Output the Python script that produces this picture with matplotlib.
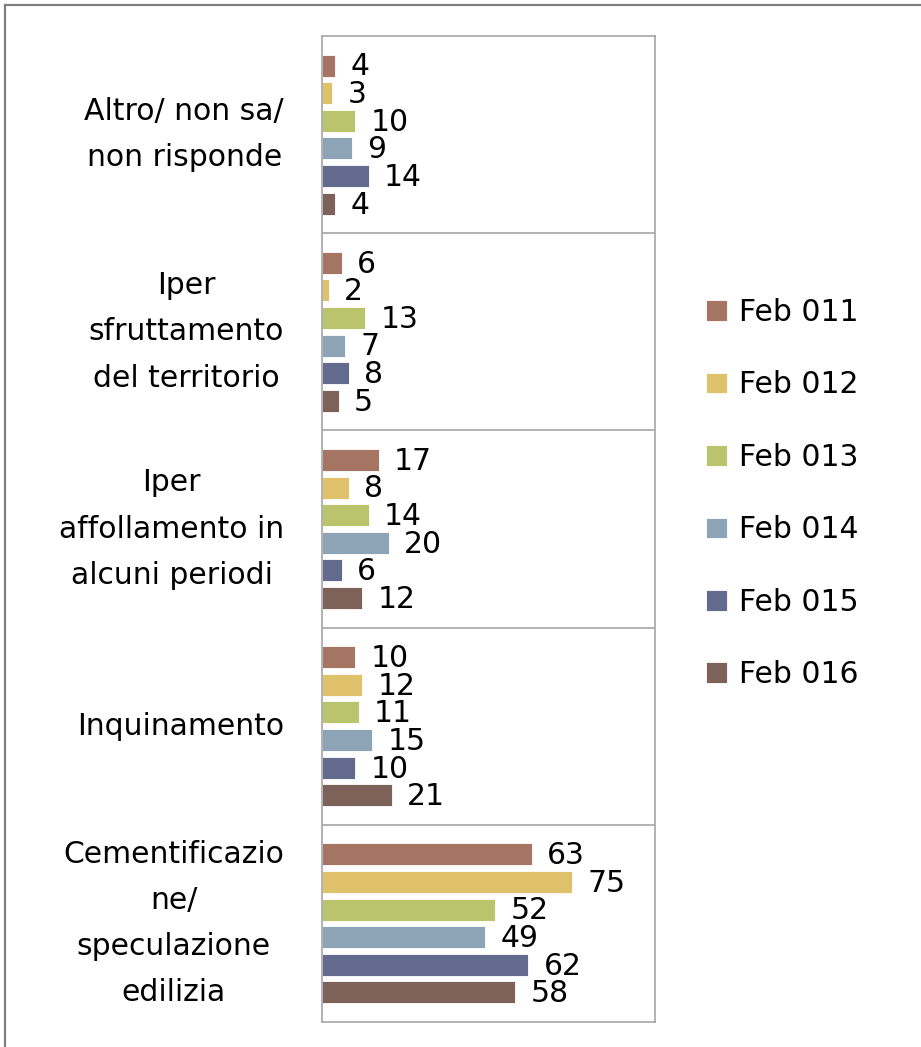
import matplotlib
matplotlib.use("Agg")
import matplotlib.pyplot as plt
from matplotlib.lines import Line2D
import numpy as np

plt.rcParams['font.family'] = ['DejaVu Sans']

categories = [
    "Altro/ non sa/\nnon risponde",
    "Iper\nsfruttamento\ndel territorio",
    "Iper\naffollamento in\nalcuni periodi",
    "Inquinamento",
    "Cementificazio\nne/\nspeculazione\nedilizia",
]
series_names = ["Feb 011", "Feb 012", "Feb 013", "Feb 014", "Feb 015", "Feb 016"]
feb011 = [4, 6, 17, 10, 63]
feb012 = [3, 2, 8, 12, 75]
feb013 = [10, 13, 14, 11, 52]
feb014 = [9, 7, 20, 15, 49]
feb015 = [14, 8, 6, 10, 62]
feb016 = [4, 5, 12, 21, 58]
values = [feb011, feb012, feb013, feb014, feb015, feb016]
colors = ["#A57462", "#DEC16A", "#BAC46C", "#8DA3B6", "#626A8D", "#7D625A"]

FS = 21.5

W, H = 921, 1047
fig = plt.figure(figsize=(W / 100, H / 100), dpi=100)
fig.patch.set_facecolor("white")

left, right, top, bottom = 322, 655, 36, 1022
ax = fig.add_axes([left / W, (H - bottom) / H, (right - left) / W, (bottom - top) / H])

n = len(categories)
ypos = np.arange(n)[::-1]  # first category at top
step = 0.14
bh = 0.112
handles = []
for i, (name, vals, col) in enumerate(zip(series_names, values, colors)):
    y = ypos + (2.5 - i) * step
    b = ax.barh(y, vals, height=bh, color=col, edgecolor="white", linewidth=0.6, label=name)
    handles.append(b)
    for yy, v in zip(y, vals):
        ax.annotate(str(v), xy=(v, yy), xytext=(11, -1), textcoords="offset points",
                    ha="left", va="center", fontsize=FS, color="#000000")

ax.set_xlim(0, 100)
ax.set_ylim(-0.5, n - 0.5)
ax.set_xticks([])
ax.set_yticks([])
for s in ax.spines.values():
    s.set_color("#A6A6A6")
    s.set_linewidth(1.2)
for k in range(1, n):
    ax.axhline(k - 0.5, color="#A6A6A6", linewidth=1.2)

# category labels
for cat, yy in zip(categories, ypos):
    ax.annotate(cat, xy=(0, yy), xycoords=("axes fraction", "data"),
                xytext=(-(left - 284) * 0.72, 0), textcoords="offset points",
                ha="right", va="center", multialignment="center",
                fontsize=FS, linespacing=1.75, color="#000000")

leg = fig.legend(handles=handles, labels=series_names, loc="upper left",
                 bbox_to_anchor=(706 / W, 1 - 298 / H), frameon=False,
                 fontsize=FS, handlelength=0.69, handleheight=0.69,
                 handletextpad=0.4, labelspacing=1.455, borderpad=0, borderaxespad=0)

# outer border (top and left)
fig.add_artist(Line2D([5 / W, 1], [1 - 5 / H, 1 - 5 / H], color="#808080", linewidth=1.6,
                      transform=fig.transFigure))
fig.add_artist(Line2D([5 / W, 5 / W], [0, 1 - 5 / H], color="#808080", linewidth=1.6,
                      transform=fig.transFigure))

fig.savefig("out.png", dpi=100, facecolor="white")
